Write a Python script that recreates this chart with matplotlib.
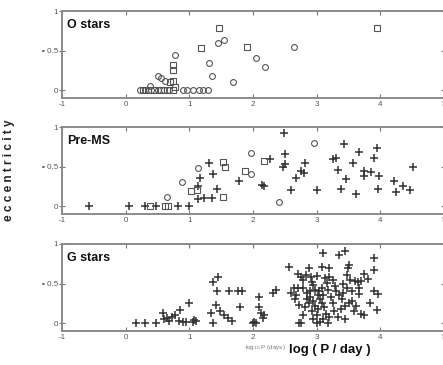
import numpy as np
import matplotlib.pyplot as plt

plt.rcParams['font.family'] = ['Liberation Sans', 'DejaVu Sans']

# ------------------------------------------------------------
# Data
# ------------------------------------------------------------
panel_names = ['O stars', 'Pre-MS', 'G stars']
xticks = [-1, 0, 1, 2, 3, 4, 5]
xtick_labels = ['-1', '0', '1', '2', '3', '4', '5']
yticks = [0, 0.5, 1]
ytick_labels = ['0', '\u25aa 0.5', '1']

# O stars
o_circ_x = [1.45, 1.54, 0.78, 2.05, 2.19, 1.31, 1.35, 1.69, 2.65, 0.50, 0.55, 0.62,
            0.39, 0.90, 0.97, 1.05, 1.15, 1.22, 1.30, 0.22, 0.30, 0.40, 0.50, 0.60, 0.68]
o_circ_y = [0.60, 0.63, 0.44, 0.40, 0.29, 0.34, 0.18, 0.10, 0.54, 0.18, 0.15, 0.12,
            0.05, 0.00, 0.00, 0.00, 0.00, 0.00, 0.00, 0.00, 0.00, 0.00, 0.00, 0.00, 0.00]
o_sq_x = [1.47, 1.18, 1.90, 3.95, 0.74, 0.74, 0.74, 0.70, 0.27, 0.35, 0.45, 0.55,
          0.65, 0.75, 0.78]
o_sq_y = [0.79, 0.53, 0.54, 0.79, 0.32, 0.26, 0.12, 0.10, 0.00, 0.00, 0.00, 0.00,
          0.00, 0.00, 0.04]

# Pre-main-sequence
pms_plus_x = [-0.58, 0.05, 0.30, 0.47, 0.82, 0.99, 1.13, 1.23, 1.35, 1.14, 1.43, 1.17,
              1.37, 1.31, 1.78, 2.14, 2.18, 2.26, 2.48, 2.50, 2.47, 2.50, 2.60, 2.68,
              2.75, 2.80, 2.82, 3.00, 3.26, 3.30, 3.33, 3.43, 3.46, 3.39, 3.57, 3.62,
              3.67, 3.75, 3.75, 3.86, 3.90, 3.95, 3.98, 3.96, 4.22, 4.24, 4.36, 4.46,
              4.52]
pms_plus_y = [0.00, 0.00, 0.00, 0.00, 0.00, 0.00, 0.09, 0.10, 0.10, 0.25, 0.22, 0.35,
              0.41, 0.55, 0.32, 0.27, 0.25, 0.60, 0.92, 0.66, 0.49, 0.53, 0.20, 0.36,
              0.44, 0.42, 0.54, 0.20, 0.59, 0.61, 0.46, 0.78, 0.34, 0.22, 0.54, 0.15,
              0.69, 0.45, 0.38, 0.43, 0.61, 0.74, 0.38, 0.22, 0.32, 0.18, 0.25, 0.20,
              0.49]
pms_circ_x = [0.65, 0.88, 1.13, 1.97, 2.96, 2.41, 1.97]
pms_circ_y = [0.11, 0.31, 0.48, 0.67, 0.80, 0.05, 0.41]
pms_sq_x = [0.38, 0.62, 0.66, 1.02, 1.12, 1.53, 1.53, 1.56, 1.87, 2.18]
pms_sq_y = [0.00, 0.00, 0.00, 0.19, 0.20, 0.12, 0.56, 0.49, 0.44, 0.57]

# G stars
g_x = [0.17, 0.31, 0.47, 0.58, 0.60, 0.65, 0.68, 0.72, 0.77, 0.85, 0.83, 0.90, 0.94,
       1.00, 1.05, 1.08, 1.10,
       1.34, 1.37, 1.45, 1.44, 1.42, 1.37, 1.48, 1.55, 1.60, 1.67, 1.62, 1.76, 1.83, 1.80,
       2.00, 2.02, 2.05, 2.10, 2.10, 2.13, 2.15, 2.18, 2.31, 2.36, 2.57,
       2.65, 2.68, 2.66, 2.70, 2.73, 2.79, 2.76, 2.78, 2.83, 2.88, 2.91, 2.93, 2.79, 2.85,
       2.90, 2.95, 2.88, 2.97, 3.02, 2.92, 3.00, 2.85, 2.82, 3.05, 3.08, 3.10, 3.04, 2.98,
       3.12, 3.15, 3.10, 2.95, 3.20, 3.18, 2.72, 2.75, 3.00, 3.05,
       3.10, 3.09, 3.20, 3.13, 3.20, 3.16, 3.23, 3.18, 3.29, 3.25, 3.28, 3.35, 3.45, 3.51,
       3.49, 3.48, 3.42, 3.47, 3.52, 3.60, 3.65, 3.70, 3.75, 3.80, 3.66, 3.66, 3.90, 3.90,
       3.90, 3.97, 3.83, 3.94,
       3.35, 3.40, 3.45, 3.38, 3.50, 3.55, 3.42, 3.30, 3.58, 3.70, 3.62, 3.33, 3.45, 3.75,
       3.55, 3.25, 2.70, 2.60, 2.95, 3.00, 3.02, 3.08, 2.90]
g_y = [0.00, 0.00, 0.00, 0.13, 0.05, 0.06, 0.03, 0.08, 0.10, 0.17, 0.03, 0.02, 0.02,
       0.25, 0.02, 0.04, 0.03,
       0.13, 0.52, 0.58, 0.41, 0.23, 0.00, 0.15, 0.10, 0.06, 0.03, 0.40, 0.40, 0.40, 0.20,
       0.00, 0.02, 0.00, 0.33, 0.20, 0.13, 0.06, 0.10, 0.38, 0.42, 0.71,
       0.45, 0.36, 0.30, 0.45, 0.23, 0.10, 0.58, 0.54, 0.61, 0.70, 0.58, 0.52, 0.45, 0.38,
       0.33, 0.28, 0.25, 0.22, 0.18, 0.15, 0.10, 0.30, 0.20, 0.30, 0.25, 0.35, 0.40, 0.42,
       0.20, 0.12, 0.05, 0.05, 0.08, 0.00, 0.00, 0.00, 0.00, 0.02,
       0.89, 0.71, 0.70, 0.57, 0.58, 0.51, 0.33, 0.42, 0.47, 0.25, 0.15, 0.86, 0.91, 0.73,
       0.70, 0.61, 0.50, 0.45, 0.55, 0.53, 0.52, 0.53, 0.62, 0.56, 0.44, 0.37, 0.82, 0.67,
       0.40, 0.37, 0.26, 0.16,
       0.35, 0.30, 0.22, 0.18, 0.25, 0.28, 0.38, 0.40, 0.15, 0.12, 0.22, 0.08, 0.05, 0.10,
       0.40, 0.55, 0.62, 0.38, 0.48, 0.60, 0.35, 0.45, 0.40]

# ------------------------------------------------------------
# Figure
# ------------------------------------------------------------
fig = plt.figure(figsize=(4.43, 3.65), dpi=100)

left = 62 / 443
width = (444 - 62) / 443
bottoms = [267 / 365, 151 / 365, 34 / 365]
height = 87 / 365

axes = [fig.add_axes([left, b, width, height]) for b in bottoms]

plus_kw = dict(linestyle='none', marker='+', markersize=6, mew=1.1, color='#333333')
circ_kw = dict(linestyle='none', marker='o', markersize=4.2, mew=0.8, mfc='none', mec='#555555')
sq_kw = dict(linestyle='none', marker='s', markersize=3.9, mew=0.8, mfc='none', mec='#555555')

axes[0].plot(o_circ_x, o_circ_y, **circ_kw)
axes[0].plot(o_sq_x, o_sq_y, **sq_kw)

axes[1].plot(pms_plus_x, pms_plus_y, **plus_kw)
axes[1].plot(pms_circ_x, pms_circ_y, **circ_kw)
axes[1].plot(pms_sq_x, pms_sq_y, **sq_kw)

axes[2].plot(g_x, g_y, **plus_kw)

for ax, name in zip(axes, panel_names):
    ax.set_xlim(-1, 5)
    ax.set_ylim(-0.1, 1.0)
    ax.set_xticks(xticks)
    ax.set_xticklabels(xtick_labels)
    ax.set_yticks(yticks)
    ax.set_yticklabels(ytick_labels)
    ax.tick_params(axis='x', direction='in', top=True, bottom=True, length=3,
                   width=0.8, color='#777777', labelsize=5.8, labelcolor='#555555', pad=2)
    ax.tick_params(axis='y', direction='inout', left=True, right=True, length=4,
                   width=0.8, color='#777777', labelsize=5.8, labelcolor='#555555', pad=1)
    for s in ax.spines.values():
        s.set_color('#8a8a8a')
        s.set_linewidth(1.4)
    ax.text(0.014, 0.84, name, transform=ax.transAxes, fontsize=9,
            fontweight='bold', color='#111111', va='center', ha='left')

fig.text(0.02, 0.534, 'e c c e n t r i c i t y', rotation=90, fontsize=8.5,
         fontweight='bold', color='#222222', va='center', ha='center')
fig.text(0.745, 0.04, 'log ( P / day )', fontsize=9.5, fontweight='bold',
         color='#111111', va='center', ha='center')
fig.text(0.6, 0.047, r'log$_{10}$ P (days)', fontsize=4.5, color='#777777',
         va='center', ha='center')

fig.savefig('out.png', dpi=100)
